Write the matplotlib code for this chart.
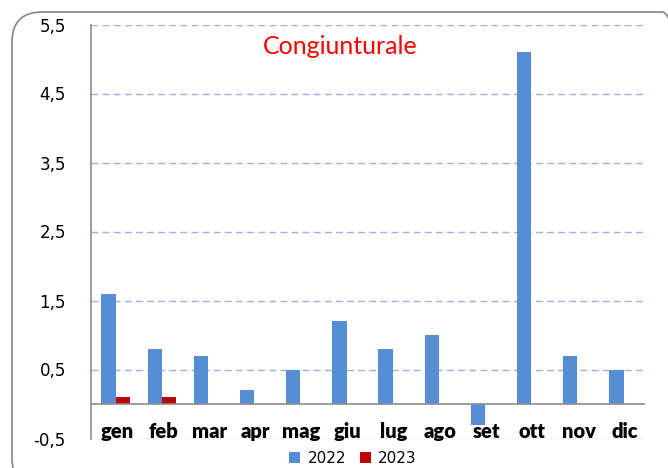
import matplotlib
matplotlib.use('Agg')
import matplotlib.pyplot as plt
from matplotlib.patches import FancyBboxPatch
import numpy as np

months = ['gen', 'feb', 'mar', 'apr', 'mag', 'giu', 'lug', 'ago', 'set', 'ott', 'nov', 'dic']
values_2022 = [1.6, 0.8, 0.7, 0.2, 0.5, 1.2, 0.8, 1.0, -0.3, 5.1, 0.7, 0.5]
values_2023 = [0.1, 0.1]
yticks = [-0.5, 0.5, 1.5, 2.5, 3.5, 4.5, 5.5]
ytick_labels = ['-0,5', '0,5', '1,5', '2,5', '3,5', '4,5', '5,5']

W, H = 668, 468
fig = plt.figure(figsize=(W / 100, H / 100), dpi=100)
fig.patch.set_facecolor('white')

# rounded frame around the chart
frame = FancyBboxPatch((12 / W, -20 / H), 680 / W, 476 / H,
                       boxstyle='round,pad=0,rounding_size=0.045',
                       transform=fig.transFigure, facecolor='none',
                       edgecolor='#8c8c8c', linewidth=1.3, mutation_aspect=W / H)
fig.patches.append(frame)

ax = fig.add_axes([91 / W, (H - 438.5) / H, (645 - 91) / W, (438.5 - 24.5) / H])

x = np.arange(len(months))
bw = 0.31
ax.bar(x - 0.12, values_2022, bw, color='#558ED5', label='2022', zorder=3)
ax.bar(x[:len(values_2023)] - 0.12 + bw, values_2023, bw, color='#C00000', label='2023', zorder=3)

ax.set_xlim(-0.5, len(months) - 0.5)
ax.set_ylim(-0.5, 5.5)
ax.set_yticks(yticks)
ax.set_yticklabels(ytick_labels, fontsize=12, family='DejaVu Sans')
ax.tick_params(axis='y', length=0, pad=18)
ax.set_xticks([])

for v in yticks:
    ax.axhline(v, color='#9DB0E6', linestyle=(0, (5, 3)), linewidth=1, zorder=1)
ax.axhline(0, color='#8c8c8c', linewidth=1.2, zorder=4)

for s in ['top', 'right', 'bottom']:
    ax.spines[s].set_visible(False)
ax.spines['left'].set_color('#8c8c8c')
ax.spines['left'].set_linewidth(1.2)

for i, m in enumerate(months):
    ax.text(i + 0.06, -0.4, m, ha='center', va='center', fontsize=14.5,
            fontweight='heavy', family='Lato', zorder=5)

ax.text(0.45, 0.946, 'Congiunturale', transform=ax.transAxes, ha='center', va='center',
        fontsize=18, color='#FF0000', family='Lato')

fig.legend(loc='lower center', bbox_to_anchor=(353 / W, -0.025), ncol=2, frameon=False,
           handlelength=0.7, handleheight=0.7, handletextpad=0.5,
           columnspacing=0.9, prop={'family': 'DejaVu Sans', 'size': 11})

fig.savefig('out.png', dpi=100)
